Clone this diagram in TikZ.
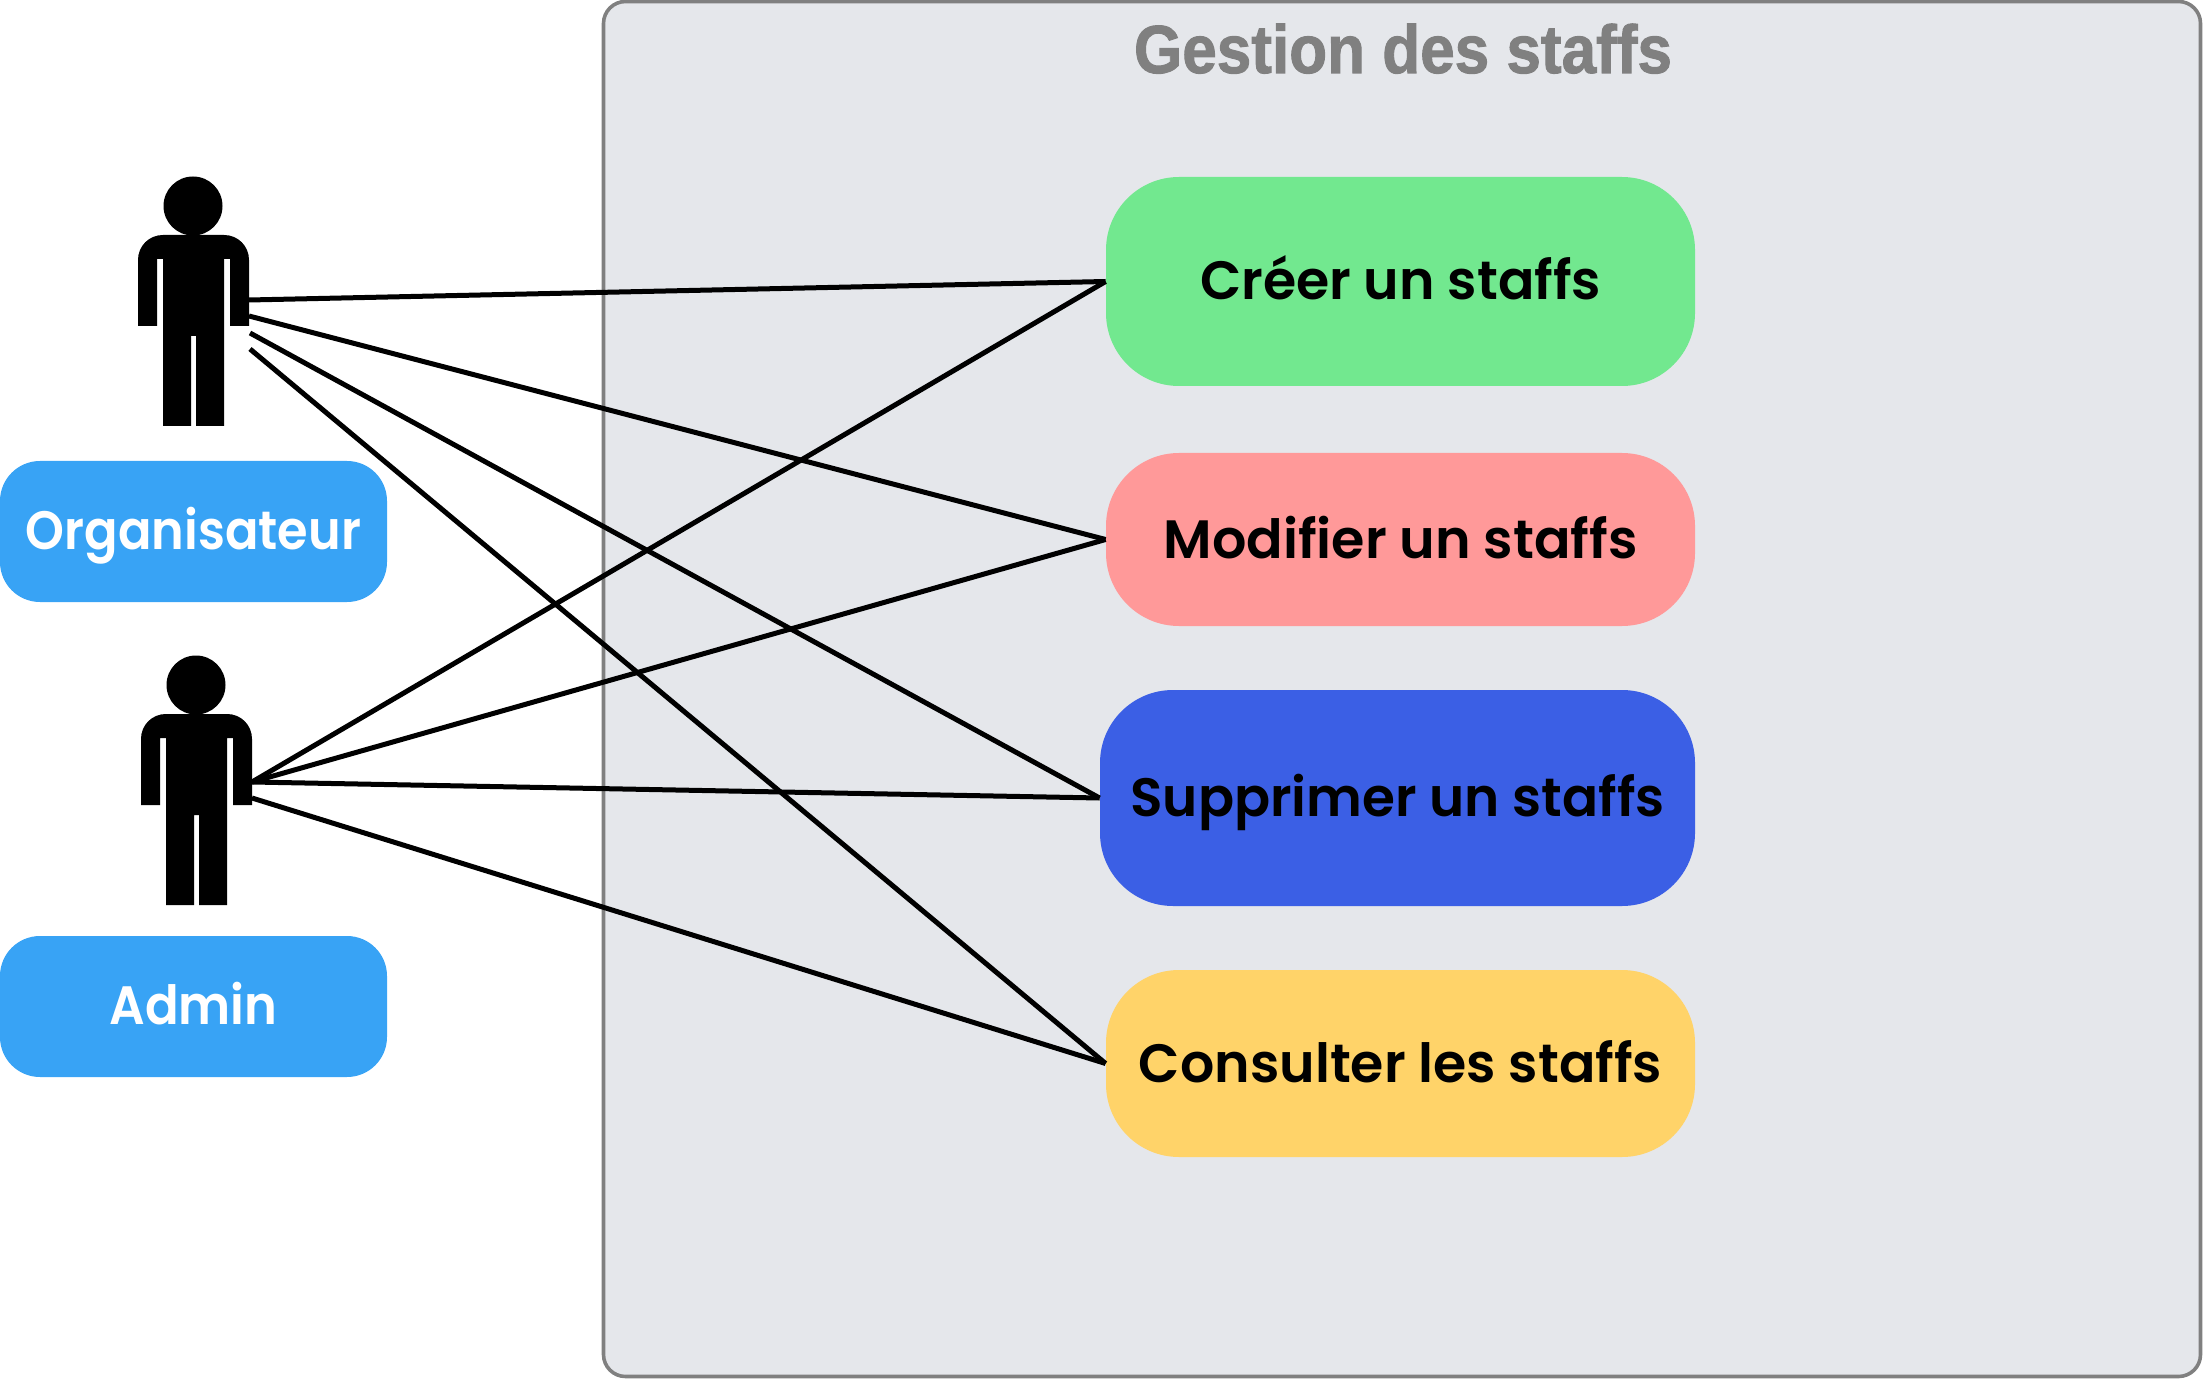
\documentclass[tikz,border=0pt]{standalone}
\usepackage{fontspec}
\usepackage{graphicx}
\setmainfont{Poppins}[BoldFont={Poppins SemiBold}]
\newfontfamily\titlefont{Liberation Sans}[BoldFeatures={FakeBold=1.5}]
\definecolor{sysfill}{HTML}{E5E7EB}
\definecolor{sysline}{HTML}{808080}
\definecolor{ucgreen}{HTML}{72E88F}
\definecolor{ucred}{HTML}{FF9999}
\definecolor{ucblue}{HTML}{3B5FE5}
\definecolor{ucyellow}{HTML}{FFD369}
\definecolor{rolebox}{HTML}{38A3F5}
\newcommand{\fitw}[2]{\resizebox{#1}{\height}{#2}}
\tikzset{
  system/.style={draw=sysline,fill=sysfill,line width=1.8pt,rounded corners=11pt,minimum width=798.5pt,minimum height=687.5pt,inner sep=0pt},
  systitle/.style={text=sysline,inner sep=0pt,anchor=base,font=\titlefont\bfseries\fontsize{34}{34}\selectfont},
  usecase/.style={rounded corners=36.5pt,inner sep=0pt,minimum height=80pt,text=black,font=\bfseries\fontsize{27}{27}\selectfont,text height=18.5pt,text depth=0pt},
  role/.style={fill=rolebox,rounded corners=20pt,inner sep=0pt,minimum width=193.5pt,minimum height=70.5pt,text=white,font=\bfseries\fontsize{27}{27}\selectfont,text height=17.5pt,text depth=0pt},
  link/.style={draw=black,line width=2.5pt},
  actor/.pic={
    \fill[black] (193,206) circle[radius=29.5];
    \fill[black] (138,326) -- (138,260) .. controls (138,246) and (149,235) .. (163,235)
      -- (224,235) .. controls (238,235) and (249,246) .. (249,260) -- (249,326) -- (230,326)
      -- (230,259) -- (224,259) -- (224,426) -- (196,426) -- (196,336) -- (191,336) -- (191,426)
      -- (163,426) -- (163,259) -- (157,259) -- (157,326) -- cycle;
  }
}
\begin{document}
\begin{tikzpicture}[x=0.5pt,y=-0.5pt]
\useasboundingbox (0,0) rectangle (2204,1379);
\node[system] (sys) at (1402,689) {};
\node[systitle] (title) at (1403,73) {\fitw{269pt}{Gestion des staffs}};
\pic (actorA) at (0,0) {actor};
\pic (actorB) at (3,479) {actor};
\node[role] (orga) at (193.5,531.5) {\fitw{167.5pt}{Organisateur}};
\node[role] (admin) at (193.5,1006.5) {\fitw{84pt}{Admin}};
\node[usecase,fill=ucgreen,minimum width=294.5pt,minimum height=104.5pt] (creer) at (1400.5,281.5) {\fitw{200.5pt}{Créer un staffs}};
\node[usecase,fill=ucred,minimum width=294.5pt,minimum height=86.5pt] (modif) at (1400.5,539.5) {\fitw{237pt}{Modifier un staffs}};
\node[usecase,fill=ucblue,minimum width=297.5pt,minimum height=108pt] (suppr) at (1397.5,798) {\fitw{267pt}{Supprimer un staffs}};
\node[usecase,fill=ucyellow,minimum width=294.5pt,minimum height=93.5pt] (consu) at (1400.5,1063.5) {\fitw{261.5pt}{Consulter les staffs}};
\coordinate (a1) at (249,300);
\coordinate (a2) at (249,316);
\coordinate (a3) at (250,333);
\coordinate (a4) at (250,349);
\coordinate (b1) at (252,782);
\coordinate (b2) at (252,798);
\draw[link] (a1) -- (creer.west);
\draw[link] (a2) -- (modif.west);
\draw[link] (a3) -- (suppr.west);
\draw[link] (a4) -- (consu.west);
\draw[link] (b1) -- (creer.west);
\draw[link] (b1) -- (modif.west);
\draw[link] (b1) -- (suppr.west);
\draw[link] (b2) -- (consu.west);
\end{tikzpicture}
\end{document}
